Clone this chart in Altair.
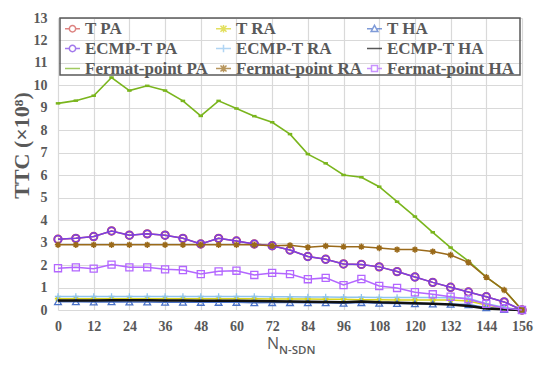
import altair as alt
import pandas as pd

# ---------------- data ----------------
n_sdn = [0, 6, 12, 18, 24, 30, 36, 42, 48, 54, 60, 66, 72, 78, 84, 90,
         96, 102, 108, 114, 120, 126, 132, 138, 144, 150, 156]

ecmp_t_pa = [3.15, 3.19, 3.27, 3.52, 3.33, 3.39, 3.33, 3.19, 2.94, 3.19, 3.07, 2.94, 2.86, 2.67,
             2.38, 2.26, 2.05, 2.03, 1.92, 1.71, 1.47, 1.23, 1.01, 0.80, 0.59, 0.36, 0.0]
t_pa = [3.15, 3.19, 3.27, 3.52, 3.33, 3.39, 3.33, 3.19, 2.94, 3.19, 3.07, 2.94, 2.86, 2.67,
        2.38, 2.26, 2.05, 2.03, 1.92, 1.71, 1.47, 1.23, 1.01, 0.80, 0.59, 0.36, 0.0]
t_ra = [0.50, 0.50, 0.50, 0.50, 0.50, 0.50, 0.50, 0.50, 0.50, 0.50, 0.50, 0.50, 0.49, 0.49,
        0.49, 0.48, 0.48, 0.46, 0.46, 0.45, 0.45, 0.45, 0.44, 0.40, 0.22, 0.10, 0.0]
t_ha = [0.37, 0.37, 0.36, 0.37, 0.36, 0.36, 0.35, 0.35, 0.34, 0.34, 0.34, 0.32, 0.33, 0.33,
        0.32, 0.32, 0.30, 0.33, 0.30, 0.29, 0.28, 0.27, 0.26, 0.24, 0.10, 0.03, 0.0]
ecmp_t_ra = [0.60, 0.60, 0.60, 0.60, 0.60, 0.60, 0.60, 0.60, 0.60, 0.60, 0.60, 0.60, 0.59, 0.59,
             0.58, 0.58, 0.57, 0.57, 0.56, 0.56, 0.56, 0.56, 0.55, 0.52, 0.28, 0.12, 0.0]
ecmp_t_ha = [0.42, 0.42, 0.42, 0.43, 0.43, 0.43, 0.42, 0.42, 0.41, 0.41, 0.41, 0.40, 0.39, 0.38,
             0.37, 0.36, 0.35, 0.38, 0.34, 0.32, 0.30, 0.28, 0.25, 0.18, 0.07, 0.03, 0.0]
fermat_pa = [9.20, 9.32, 9.54, 10.35, 9.77, 9.98, 9.77, 9.31, 8.64, 9.31, 8.97, 8.63, 8.36, 7.83,
             6.94, 6.53, 6.01, 5.91, 5.49, 4.82, 4.16, 3.46, 2.78, 2.18, 1.46, 0.89, 0.0]
fermat_ra = [2.90, 2.90, 2.90, 2.90, 2.90, 2.90, 2.90, 2.90, 2.90, 2.90, 2.90, 2.90, 2.86, 2.88,
             2.79, 2.85, 2.82, 2.82, 2.76, 2.69, 2.69, 2.60, 2.45, 2.12, 1.46, 0.89, 0.0]
fermat_ha = [1.86, 1.90, 1.84, 2.02, 1.90, 1.90, 1.81, 1.78, 1.60, 1.72, 1.75, 1.56, 1.65, 1.60,
             1.37, 1.43, 1.11, 1.38, 1.07, 0.98, 0.79, 0.70, 0.59, 0.48, 0.27, 0.08, 0.0]

series_names = ["T PA", "T RA", "T HA",
                "ECMP-T PA", "ECMP-T RA", "ECMP-T HA",
                "Fermat-point PA", "Fermat-point RA", "Fermat-point HA"]
series_values = [t_pa, t_ra, t_ha, ecmp_t_pa, ecmp_t_ra, ecmp_t_ha,
                 fermat_pa, fermat_ra, fermat_ha]
series_colors = ["#d0504d", "#d8d41c", "#4a72c8",
                 "#7b3fe4", "#8fc4ee", "#111111",
                 "#7ab51d", "#9a6a1a", "#b366ff"]

y_ticks = list(range(0, 14))
x_ticks = list(range(0, 157, 12))

rows = []
for name, vals in zip(series_names, series_values):
    for xv, yv in zip(n_sdn, vals):
        rows.append({"n": xv, "ttc": yv, "series": name})
df = pd.DataFrame(rows)

# ---------------- styles ----------------
GRAY = "#595959"
SERIF = "Liberation Serif"

asterisk = "M-1,0L1,0M0,-1L0,1M-0.7,-0.7L0.7,0.7M-0.7,0.7L0.7,-0.7"
plus = "M-1,0L1,0M0,-1L0,1"
dash = "M-1,0L1,0"

markers = {
    "T PA": ("circle", 55, 2.0),
    "T RA": (asterisk, 40, 1.3),
    "T HA": ("triangle-up", 45, 1.3),
    "ECMP-T PA": ("circle", 55, 1.5),
    "ECMP-T RA": (plus, 40, 1.3),
    "ECMP-T HA": None,
    "Fermat-point PA": (dash, 20, 2.5),
    "Fermat-point RA": (asterisk, 40, 1.5),
    "Fermat-point HA": ("square", 50, 1.3),
}
line_widths = {"ECMP-T HA": 2.5, "Fermat-point PA": 1.6}

circ = "M-1,0L-0.42,0M0.42,0L1,0M0.42,0A0.42,0.42,0,1,1,-0.42,0A0.42,0.42,0,1,1,0.42,0"
ast_l = "M-1,0L1,0M0,-0.5L0,0.5M-0.4,-0.4L0.4,0.4M-0.4,0.4L0.4,-0.4"
tri_l = "M-1,0L-0.3,0M0.3,0L1,0M0,-0.45L0.45,0.35L-0.45,0.35Z"
plus_l = "M-1,0L1,0M0,-0.5L0,0.5"
line_l = "M-1,0L1,0"
sq_l = "M-1,0L-0.4,0M0.4,0L1,0M-0.4,-0.4L0.4,-0.4L0.4,0.4L-0.4,0.4Z"
legend_path_of = {
    "T PA": circ, "T RA": ast_l, "T HA": tri_l,
    "ECMP-T PA": circ, "ECMP-T RA": plus_l, "ECMP-T HA": line_l,
    "Fermat-point PA": line_l, "Fermat-point RA": ast_l, "Fermat-point HA": sq_l,
}
color_of = dict(zip(series_names, series_colors))

# legend fills column by column: order so it reads row by row
legend_order = ["T PA", "ECMP-T PA", "Fermat-point PA",
                "T RA", "ECMP-T RA", "Fermat-point RA",
                "T HA", "ECMP-T HA", "Fermat-point HA"]

x_enc = alt.X("n:Q", scale=alt.Scale(domain=[0, 156], nice=False, zero=False),
              axis=alt.Axis(values=x_ticks, title=None, grid=True, domain=False,
                            ticks=False, labelPadding=9, labelFlush=False))
y_enc = alt.Y("ttc:Q", scale=alt.Scale(domain=[0, 13], nice=False),
              axis=alt.Axis(values=y_ticks, title="TTC (×10⁸)", grid=True, domain=False,
                            ticks=False, labelPadding=11,
                            titleFont=SERIF, titleFontWeight="bold", titleFontSize=22,
                            titleColor=GRAY, titleX=-37, titleY=127, titleBaseline="middle",
                            titleAngle=270))

layers = []
for name, col in zip(series_names, series_colors):
    base = alt.Chart(df).transform_filter(alt.datum.series == name)
    layers.append(base.mark_line(strokeWidth=line_widths.get(name, 1.5), color=col)
                  .encode(x=x_enc, y=y_enc))
    m = markers[name]
    if m is not None:
        shape, size, sw = m
        layers.append(base.mark_point(shape=shape, size=size, strokeWidth=sw,
                                      filled=False, color=col, opacity=1)
                      .encode(x=x_enc, y=y_enc))

legend = alt.Legend(title=None, orient="none", legendX=4, legendY=0, columns=3,
                    gridAlign="all", columnPadding=0, rowPadding=2, padding=2,
                    labelFont=SERIF, labelFontWeight="bold", labelFontSize=17,
                    labelColor=GRAY, labelBaseline="middle", labelOffset=4,
                    symbolSize=225, symbolStrokeWidth=1.5, labelLimit=200)

legend_layer = (alt.Chart(df).transform_filter("false")
                .mark_point(filled=False, strokeWidth=1.5)
                .encode(color=alt.Color("series:N",
                                        scale=alt.Scale(domain=legend_order,
                                                        range=[color_of[s] for s in legend_order]),
                                        legend=legend),
                        shape=alt.Shape("series:N",
                                        scale=alt.Scale(domain=legend_order,
                                                        range=[legend_path_of[s] for s in legend_order]),
                                        legend=legend)))

# frame around the legend
legend_frame = (alt.Chart(pd.DataFrame({"k": [0]}))
                .mark_rect(fillOpacity=0, stroke=GRAY, strokeWidth=1.5)
                .encode(x=alt.value(2), x2=alt.value(462), y=alt.value(0), y2=alt.value(57)))

title_n = (alt.Chart(pd.DataFrame({"t": ["N"]}))
           .mark_text(align="left", baseline="alphabetic", font="Open Sans",
                      fontSize=16, color=GRAY)
           .encode(text="t:N", x=alt.value(209), y=alt.value(331)))
title_sub = (alt.Chart(pd.DataFrame({"t": ["N-SDN"]}))
             .mark_text(align="left", baseline="alphabetic", font="Open Sans",
                        fontSize=11.5, fontWeight=600, color=GRAY)
             .encode(text="t:N", x=alt.value(221), y=alt.value(336)))

chart = (alt.layer(*layers, legend_frame, legend_layer, title_n, title_sub)
         .properties(width=464, height=292,
                     autosize=alt.AutoSizeParams(type="none"),
                     padding={"left": 50, "top": 10, "right": 20, "bottom": 47})
         .configure_view(stroke=None)
         .configure_axis(gridColor="#d9d9d9", gridWidth=1.2,
                         labelFont=SERIF, labelFontWeight="bold", labelFontSize=14,
                         labelColor=GRAY))

chart.save("out.html", embed_options={"renderer": "svg", "actions": False})
